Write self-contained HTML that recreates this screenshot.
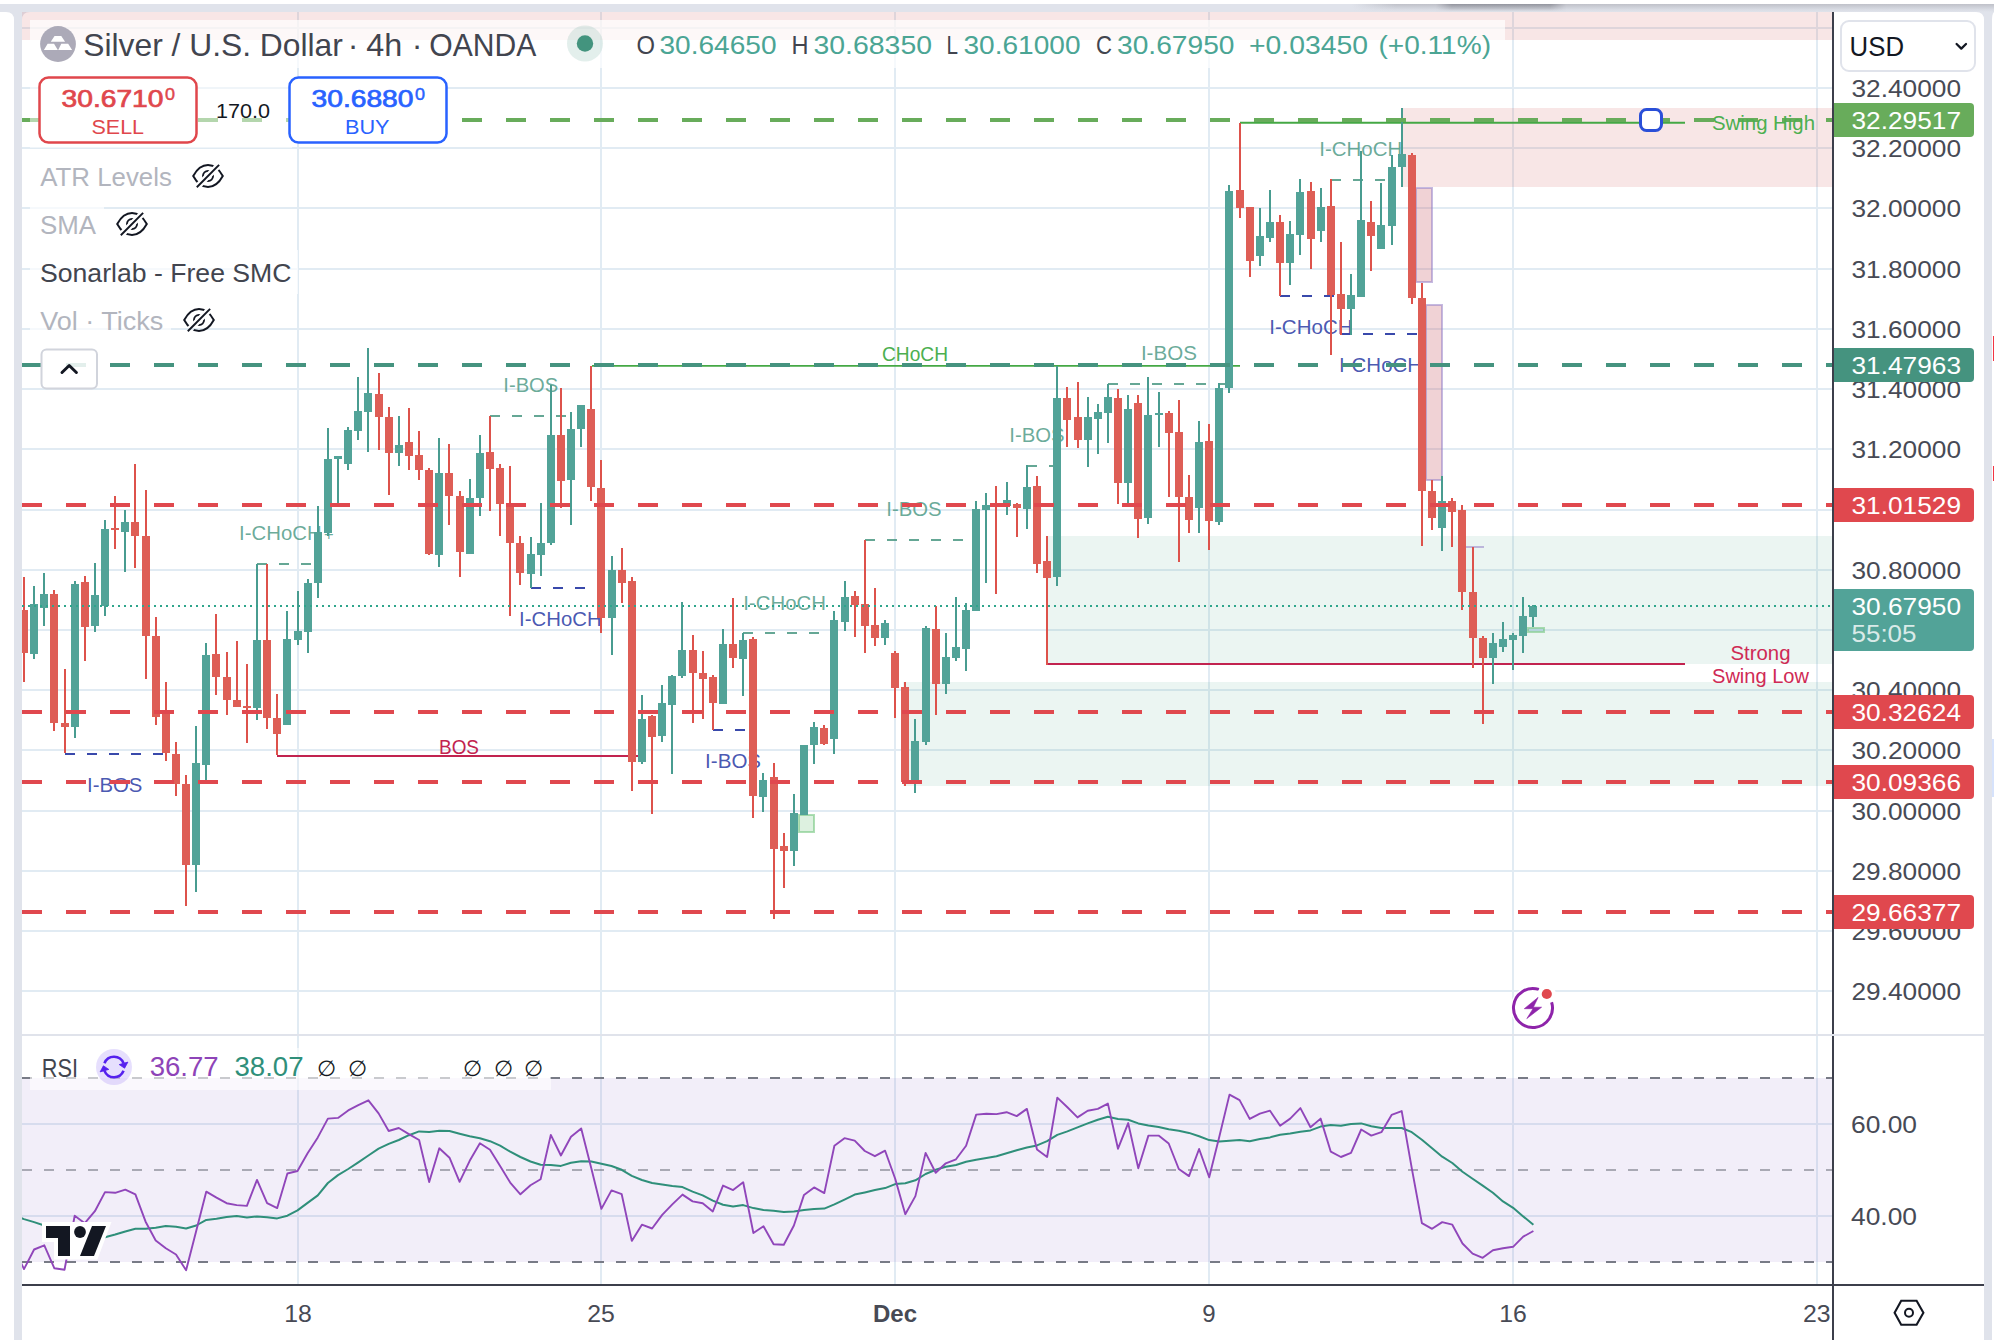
<!DOCTYPE html>
<html><head><meta charset="utf-8"><title>Silver / U.S. Dollar chart</title>
<style>
html,body{margin:0;padding:0;background:#fff;}
body{width:1994px;height:1340px;overflow:hidden;position:relative;font-family:'Liberation Sans', Arial, sans-serif;}
svg{position:absolute;left:0;top:0;display:block}
text{font-family:'Liberation Sans', Arial, sans-serif;}
</style></head><body>
<svg width="1994" height="1340" viewBox="0 0 1994 1340">
<defs>
<clipPath id="cpMain"><rect x="22" y="12" width="1810" height="1022"/></clipPath>
<clipPath id="cpRsi"><rect x="22" y="1036" width="1810" height="248"/></clipPath>
<linearGradient id="shDarkV" x1="0" y1="0" x2="0" y2="1"><stop offset="0" stop-color="#8e9099" stop-opacity="0.9"/><stop offset="0.6" stop-color="#a5a7b0" stop-opacity="0.45"/><stop offset="1" stop-color="#c8cad2" stop-opacity="0"/></linearGradient>
<linearGradient id="shDarkH" x1="0" y1="0" x2="1" y2="0"><stop offset="0" stop-color="#fff" stop-opacity="0"/><stop offset="0.12" stop-color="#fff" stop-opacity="1"/><stop offset="0.88" stop-color="#fff" stop-opacity="1"/><stop offset="1" stop-color="#fff" stop-opacity="0"/></linearGradient>
<mask id="shMask" maskUnits="userSpaceOnUse" x="1436" y="4" width="130" height="8"><rect x="1436" y="4" width="130" height="8" fill="url(#shDarkH)"/></mask>
<linearGradient id="shFade" x1="0" y1="0" x2="1" y2="0"><stop offset="0" stop-color="#e0e3eb" stop-opacity="1"/><stop offset="1" stop-color="#e0e3eb" stop-opacity="0"/></linearGradient>
<linearGradient id="shTop" x1="0" y1="0" x2="0" y2="1"><stop offset="0" stop-color="#bfc1c9"/><stop offset="0.7" stop-color="#d9dce4"/><stop offset="1" stop-color="#e0e3eb"/></linearGradient>
<mask id="eyeMask" maskUnits="userSpaceOnUse" x="-20" y="-16" width="40" height="32"><rect x="-20" y="-16" width="40" height="32" fill="#fff"/><line x1="-12.500" y1="12.500" x2="12.500" y2="-12.500" stroke="#000" stroke-width="6.400"/></mask>
<g id="eye"><g mask="url(#eyeMask)" fill="none" stroke="#131722" stroke-width="1.950"><path d="M-14.800 0 C-11 -7 -5.800 -11 0 -11 C5.800 -11 11 -7 14.800 0 C11 7 5.800 11 0 11 C-5.800 11 -11 7 -14.800 0 Z" stroke-linejoin="miter"/><circle cx="0" cy="0" r="5"/></g><line x1="-11.200" y1="11.200" x2="11.100" y2="-11.100" stroke="#131722" stroke-width="1.950"/></g>
</defs>

<rect x="0" y="0" width="1994" height="1340" fill="#e0e3eb" shape-rendering="crispEdges"/>
<rect x="0" y="0" width="1994" height="4" fill="#fff" shape-rendering="crispEdges"/>
<rect x="1352" y="4" width="642" height="8" fill="url(#shTop)"/>
<rect x="1352" y="4" width="44" height="8" fill="url(#shFade)"/>
<rect x="1436" y="4" width="130" height="8" fill="url(#shDarkV)" mask="url(#shMask)"/>
<path d="M1358 0 H1994 V4 H1366 Q1360 4 1358 0 Z" fill="#fff"/>
<path d="M0 12 H6 Q14 12 14 20 V1340 H0 Z" fill="#fff"/>
<path d="M22 1340 V20 Q22 12 30 12 H1976 Q1984 12 1984 20 V1340 Z" fill="#fff"/>
<path d="M1992 1340 V20 Q1992 14 1994 12 V1340 Z" fill="#fff"/>
<rect x="1993" y="336" width="1" height="25" fill="#f23645" shape-rendering="crispEdges"/>
<rect x="1993" y="466" width="1" height="15" fill="#f23645" shape-rendering="crispEdges"/>
<rect x="1992" y="739" width="2" height="58" fill="#d6e2fb" shape-rendering="crispEdges"/>
<g clip-path="url(#cpMain)" shape-rendering="crispEdges">
<rect x="297" y="12" width="2" height="1022" fill="#e1ebf3"/>
<rect x="600" y="12" width="2" height="1022" fill="#e1ebf3"/>
<rect x="894" y="12" width="2" height="1022" fill="#e1ebf3"/>
<rect x="1208" y="12" width="2" height="1022" fill="#e1ebf3"/>
<rect x="1512" y="12" width="2" height="1022" fill="#e1ebf3"/>
<rect x="1816" y="12" width="2" height="1022" fill="#e1ebf3"/>
<rect x="22" y="27" width="1810" height="2" fill="#e1ebf3"/>
<rect x="22" y="87" width="1810" height="2" fill="#e1ebf3"/>
<rect x="22" y="147" width="1810" height="2" fill="#e1ebf3"/>
<rect x="22" y="207" width="1810" height="2" fill="#e1ebf3"/>
<rect x="22" y="268" width="1810" height="2" fill="#e1ebf3"/>
<rect x="22" y="328" width="1810" height="2" fill="#e1ebf3"/>
<rect x="22" y="388" width="1810" height="2" fill="#e1ebf3"/>
<rect x="22" y="448" width="1810" height="2" fill="#e1ebf3"/>
<rect x="22" y="509" width="1810" height="2" fill="#e1ebf3"/>
<rect x="22" y="569" width="1810" height="2" fill="#e1ebf3"/>
<rect x="22" y="629" width="1810" height="2" fill="#e1ebf3"/>
<rect x="22" y="689" width="1810" height="2" fill="#e1ebf3"/>
<rect x="22" y="749" width="1810" height="2" fill="#e1ebf3"/>
<rect x="22" y="810" width="1810" height="2" fill="#e1ebf3"/>
<rect x="22" y="870" width="1810" height="2" fill="#e1ebf3"/>
<rect x="22" y="930" width="1810" height="2" fill="#e1ebf3"/>
<rect x="22" y="990" width="1810" height="2" fill="#e1ebf3"/>
<rect x="22" y="12" width="1810" height="28" fill="rgba(208,88,88,0.15)"/>
<rect x="1403" y="108" width="429" height="79" fill="rgba(208,88,88,0.15)"/>
<rect x="1048" y="536" width="784" height="128" fill="rgba(60,160,130,0.10)"/>
<rect x="903" y="682" width="929" height="104" fill="rgba(60,160,130,0.10)"/>
<rect x="1416" y="188" width="16" height="94" fill="rgba(200,90,100,0.27)" stroke="rgba(150,130,200,0.55)" stroke-width="2"/>
<rect x="1426" y="305" width="16" height="175" fill="rgba(200,90,100,0.27)" stroke="rgba(150,130,200,0.55)" stroke-width="2"/>
<rect x="1466" y="546" width="18" height="2" fill="rgba(150,130,200,0.55)"/>
<rect x="799" y="815" width="15" height="17" fill="rgba(120,200,130,0.25)" stroke="rgba(120,200,130,0.6)" stroke-width="2"/>
<rect x="1528" y="628" width="16" height="4" fill="rgba(120,180,200,0.3)" stroke="rgba(120,200,130,0.6)" stroke-width="2"/>
</g>
<g clip-path="url(#cpMain)">
<line x1="65" y1="754" x2="163" y2="754" stroke="#3949ab" stroke-width="2" stroke-dasharray="10 12" shape-rendering="crispEdges"/>
<text x="87.0" y="791.6" font-size="19.5" fill="rgba(57,73,171,0.92)" text-anchor="start" textLength="55.4" lengthAdjust="spacingAndGlyphs">I-BOS</text>
<line x1="257" y1="564" x2="311" y2="564" stroke="rgba(67,148,126,0.82)" stroke-width="2" stroke-dasharray="10 12" shape-rendering="crispEdges"/>
<text x="239.1" y="539.7" font-size="19.5" fill="rgba(67,148,126,0.78)" text-anchor="start" textLength="82.5" lengthAdjust="spacingAndGlyphs">I-CHoCH</text>
<text x="328.7" y="540" font-size="16.5" fill="rgba(67,148,126,0.78)" text-anchor="middle">+</text>
<line x1="277" y1="756" x2="638" y2="756" stroke="#c2234f" stroke-width="2" shape-rendering="crispEdges"/>
<text x="459" y="754" font-size="19.5" fill="#c2234f" text-anchor="middle" textLength="40" lengthAdjust="spacingAndGlyphs">BOS</text>
<line x1="490" y1="416" x2="571" y2="416" stroke="rgba(67,148,126,0.82)" stroke-width="2" stroke-dasharray="10 12" shape-rendering="crispEdges"/>
<text x="503.3" y="391.8" font-size="19.5" fill="rgba(67,148,126,0.78)" text-anchor="start" textLength="55.0" lengthAdjust="spacingAndGlyphs">I-BOS</text>
<line x1="531" y1="588" x2="590" y2="588" stroke="#3949ab" stroke-width="2" stroke-dasharray="10 12" shape-rendering="crispEdges"/>
<text x="519.1" y="625.9" font-size="19.5" fill="rgba(57,73,171,0.92)" text-anchor="start" textLength="82.5" lengthAdjust="spacingAndGlyphs">I-CHoCH</text>
<line x1="743" y1="633" x2="830" y2="633" stroke="rgba(67,148,126,0.82)" stroke-width="2" stroke-dasharray="10 12" shape-rendering="crispEdges"/>
<text x="743.2" y="609.7" font-size="19.5" fill="rgba(67,148,126,0.78)" text-anchor="start" textLength="82.8" lengthAdjust="spacingAndGlyphs">I-CHoCH</text>
<line x1="713" y1="730" x2="750" y2="730" stroke="#3949ab" stroke-width="2" stroke-dasharray="10 12" shape-rendering="crispEdges"/>
<text x="705.1" y="767.8" font-size="19.5" fill="rgba(57,73,171,0.92)" text-anchor="start" textLength="56.0" lengthAdjust="spacingAndGlyphs">I-BOS</text>
<line x1="865" y1="540" x2="972" y2="540" stroke="rgba(67,148,126,0.82)" stroke-width="2" stroke-dasharray="10 12" shape-rendering="crispEdges"/>
<text x="886.3" y="515.8" font-size="19.5" fill="rgba(67,148,126,0.78)" text-anchor="start" textLength="55.3" lengthAdjust="spacingAndGlyphs">I-BOS</text>
<line x1="1027" y1="466" x2="1055" y2="466" stroke="rgba(67,148,126,0.82)" stroke-width="2" stroke-dasharray="10 12" shape-rendering="crispEdges"/>
<text x="1009.3" y="441.8" font-size="19.5" fill="rgba(67,148,126,0.78)" text-anchor="start" textLength="55.3" lengthAdjust="spacingAndGlyphs">I-BOS</text>
<text x="915" y="361.3" font-size="19.5" fill="#4caf50" text-anchor="middle" textLength="66" lengthAdjust="spacingAndGlyphs">CHoCH</text>
<line x1="1108" y1="384" x2="1228" y2="384" stroke="rgba(67,148,126,0.82)" stroke-width="2" stroke-dasharray="10 12" shape-rendering="crispEdges"/>
<text x="1140.9" y="360" font-size="19.5" fill="rgba(67,148,126,0.78)" text-anchor="start" textLength="56.0" lengthAdjust="spacingAndGlyphs">I-BOS</text>
<line x1="1331" y1="180" x2="1392" y2="180" stroke="rgba(67,148,126,0.82)" stroke-width="2" stroke-dasharray="10 12" shape-rendering="crispEdges"/>
<text x="1319.3" y="156.3" font-size="19.5" fill="rgba(67,148,126,0.78)" text-anchor="start" textLength="83.0" lengthAdjust="spacingAndGlyphs">I-CHoCH</text>
<line x1="1280" y1="296" x2="1334" y2="296" stroke="#3949ab" stroke-width="2" stroke-dasharray="10 12" shape-rendering="crispEdges"/>
<text x="1269.3" y="333.8" font-size="19.5" fill="rgba(57,73,171,0.92)" text-anchor="start" textLength="83.3" lengthAdjust="spacingAndGlyphs">I-CHoCH</text>
<line x1="1341" y1="334" x2="1421" y2="334" stroke="#3949ab" stroke-width="2" stroke-dasharray="10 12" shape-rendering="crispEdges"/>
<text x="1339.1" y="371.8" font-size="19.5" fill="rgba(57,73,171,0.92)" text-anchor="start" textLength="83.0" lengthAdjust="spacingAndGlyphs">I-CHoCH</text>
<line x1="1047" y1="664" x2="1685" y2="664" stroke="#c2234f" stroke-width="2" shape-rendering="crispEdges"/>
<text x="1760.5" y="659.5" font-size="19.5" fill="#cf2a55" text-anchor="middle" textLength="60" lengthAdjust="spacingAndGlyphs">Strong</text>
<text x="1760.5" y="682.5" font-size="19.5" fill="#cf2a55" text-anchor="middle" textLength="97" lengthAdjust="spacingAndGlyphs">Swing Low</text>
</g>
<g clip-path="url(#cpMain)" shape-rendering="crispEdges">
<line x1="592" y1="365.900" x2="1240" y2="365.900" stroke="#45a845" stroke-width="1.600" shape-rendering="auto"/>
<line x1="1240" y1="122.800" x2="1685" y2="122.800" stroke="#45a845" stroke-width="1.900" shape-rendering="auto"/>
<rect x="23" y="577" width="2" height="105" fill="#dd524b"/>
<rect x="20" y="610" width="8" height="43" fill="#de5e56"/>
<rect x="33" y="586" width="2" height="73" fill="#489c90"/>
<rect x="30" y="604" width="8" height="50" fill="#52a398"/>
<rect x="43" y="573" width="2" height="53" fill="#489c90"/>
<rect x="40" y="594" width="8" height="14" fill="#52a398"/>
<rect x="53" y="590" width="2" height="141" fill="#dd524b"/>
<rect x="50" y="594" width="8" height="129" fill="#de5e56"/>
<rect x="64" y="669" width="2" height="84" fill="#dd524b"/>
<rect x="61" y="723" width="8" height="4" fill="#de5e56"/>
<rect x="74" y="581" width="2" height="157" fill="#489c90"/>
<rect x="71" y="584" width="8" height="143" fill="#52a398"/>
<rect x="84" y="576" width="2" height="85" fill="#dd524b"/>
<rect x="81" y="582" width="8" height="45" fill="#de5e56"/>
<rect x="94" y="563" width="2" height="69" fill="#489c90"/>
<rect x="91" y="595" width="8" height="31" fill="#52a398"/>
<rect x="104" y="520" width="2" height="96" fill="#489c90"/>
<rect x="101" y="529" width="8" height="77" fill="#52a398"/>
<rect x="114" y="496" width="2" height="53" fill="#dd524b"/>
<rect x="111" y="528" width="8" height="2" fill="#de5e56"/>
<rect x="124" y="510" width="2" height="62" fill="#489c90"/>
<rect x="121" y="522" width="8" height="10" fill="#52a398"/>
<rect x="134" y="464" width="2" height="104" fill="#dd524b"/>
<rect x="131" y="522" width="8" height="14" fill="#de5e56"/>
<rect x="145" y="490" width="2" height="189" fill="#dd524b"/>
<rect x="142" y="536" width="8" height="100" fill="#de5e56"/>
<rect x="155" y="617" width="2" height="108" fill="#dd524b"/>
<rect x="152" y="636" width="8" height="81" fill="#de5e56"/>
<rect x="165" y="682" width="2" height="79" fill="#dd524b"/>
<rect x="162" y="714" width="8" height="39" fill="#de5e56"/>
<rect x="175" y="742" width="2" height="54" fill="#dd524b"/>
<rect x="172" y="754" width="8" height="30" fill="#de5e56"/>
<rect x="185" y="775" width="2" height="131" fill="#dd524b"/>
<rect x="182" y="784" width="8" height="81" fill="#de5e56"/>
<rect x="195" y="726" width="2" height="166" fill="#489c90"/>
<rect x="192" y="763" width="8" height="102" fill="#52a398"/>
<rect x="205" y="643" width="2" height="137" fill="#489c90"/>
<rect x="202" y="655" width="8" height="110" fill="#52a398"/>
<rect x="215" y="614" width="2" height="81" fill="#dd524b"/>
<rect x="212" y="654" width="8" height="23" fill="#de5e56"/>
<rect x="226" y="652" width="2" height="63" fill="#dd524b"/>
<rect x="223" y="677" width="8" height="23" fill="#de5e56"/>
<rect x="236" y="641" width="2" height="66" fill="#dd524b"/>
<rect x="233" y="700" width="8" height="7" fill="#de5e56"/>
<rect x="246" y="664" width="2" height="79" fill="#dd524b"/>
<rect x="243" y="706" width="8" height="2" fill="#de5e56"/>
<rect x="256" y="564" width="2" height="156" fill="#489c90"/>
<rect x="253" y="640" width="8" height="68" fill="#52a398"/>
<rect x="266" y="564" width="2" height="165" fill="#dd524b"/>
<rect x="263" y="640" width="8" height="78" fill="#de5e56"/>
<rect x="276" y="694" width="2" height="61" fill="#dd524b"/>
<rect x="273" y="718" width="8" height="16" fill="#de5e56"/>
<rect x="286" y="611" width="2" height="114" fill="#489c90"/>
<rect x="283" y="639" width="8" height="86" fill="#52a398"/>
<rect x="297" y="591" width="2" height="54" fill="#489c90"/>
<rect x="294" y="631" width="8" height="9" fill="#52a398"/>
<rect x="307" y="579" width="2" height="74" fill="#489c90"/>
<rect x="304" y="583" width="8" height="49" fill="#52a398"/>
<rect x="317" y="506" width="2" height="92" fill="#489c90"/>
<rect x="314" y="532" width="8" height="51" fill="#52a398"/>
<rect x="327" y="428" width="2" height="108" fill="#489c90"/>
<rect x="324" y="459" width="8" height="74" fill="#52a398"/>
<rect x="337" y="456" width="2" height="47" fill="#489c90"/>
<rect x="334" y="456" width="8" height="3" fill="#52a398"/>
<rect x="347" y="427" width="2" height="43" fill="#489c90"/>
<rect x="344" y="430" width="8" height="34" fill="#52a398"/>
<rect x="357" y="377" width="2" height="63" fill="#489c90"/>
<rect x="354" y="411" width="8" height="20" fill="#52a398"/>
<rect x="367" y="348" width="2" height="104" fill="#489c90"/>
<rect x="364" y="393" width="8" height="19" fill="#52a398"/>
<rect x="378" y="373" width="2" height="77" fill="#dd524b"/>
<rect x="375" y="394" width="8" height="23" fill="#de5e56"/>
<rect x="388" y="407" width="2" height="88" fill="#dd524b"/>
<rect x="385" y="417" width="8" height="36" fill="#de5e56"/>
<rect x="398" y="416" width="2" height="50" fill="#489c90"/>
<rect x="395" y="445" width="8" height="8" fill="#52a398"/>
<rect x="408" y="408" width="2" height="62" fill="#dd524b"/>
<rect x="405" y="442" width="8" height="14" fill="#de5e56"/>
<rect x="418" y="431" width="2" height="49" fill="#dd524b"/>
<rect x="415" y="455" width="8" height="15" fill="#de5e56"/>
<rect x="428" y="468" width="2" height="87" fill="#dd524b"/>
<rect x="425" y="470" width="8" height="84" fill="#de5e56"/>
<rect x="438" y="438" width="2" height="129" fill="#489c90"/>
<rect x="435" y="473" width="8" height="82" fill="#52a398"/>
<rect x="448" y="444" width="2" height="81" fill="#dd524b"/>
<rect x="445" y="473" width="8" height="23" fill="#de5e56"/>
<rect x="459" y="491" width="2" height="86" fill="#dd524b"/>
<rect x="456" y="496" width="8" height="56" fill="#de5e56"/>
<rect x="469" y="479" width="2" height="75" fill="#489c90"/>
<rect x="466" y="498" width="8" height="56" fill="#52a398"/>
<rect x="479" y="435" width="2" height="81" fill="#489c90"/>
<rect x="476" y="453" width="8" height="45" fill="#52a398"/>
<rect x="489" y="416" width="2" height="95" fill="#dd524b"/>
<rect x="486" y="452" width="8" height="17" fill="#de5e56"/>
<rect x="499" y="464" width="2" height="72" fill="#dd524b"/>
<rect x="496" y="468" width="8" height="36" fill="#de5e56"/>
<rect x="509" y="466" width="2" height="150" fill="#dd524b"/>
<rect x="506" y="504" width="8" height="39" fill="#de5e56"/>
<rect x="519" y="536" width="2" height="49" fill="#dd524b"/>
<rect x="516" y="543" width="8" height="30" fill="#de5e56"/>
<rect x="530" y="537" width="2" height="51" fill="#489c90"/>
<rect x="527" y="554" width="8" height="20" fill="#52a398"/>
<rect x="540" y="503" width="2" height="73" fill="#489c90"/>
<rect x="537" y="543" width="8" height="12" fill="#52a398"/>
<rect x="550" y="385" width="2" height="160" fill="#489c90"/>
<rect x="547" y="435" width="8" height="108" fill="#52a398"/>
<rect x="560" y="388" width="2" height="120" fill="#dd524b"/>
<rect x="557" y="435" width="8" height="46" fill="#de5e56"/>
<rect x="570" y="412" width="2" height="113" fill="#489c90"/>
<rect x="567" y="429" width="8" height="51" fill="#52a398"/>
<rect x="580" y="405" width="2" height="42" fill="#489c90"/>
<rect x="577" y="405" width="8" height="24" fill="#52a398"/>
<rect x="590" y="366" width="2" height="135" fill="#dd524b"/>
<rect x="587" y="409" width="8" height="78" fill="#de5e56"/>
<rect x="600" y="460" width="2" height="173" fill="#dd524b"/>
<rect x="597" y="488" width="8" height="130" fill="#de5e56"/>
<rect x="611" y="556" width="2" height="99" fill="#489c90"/>
<rect x="608" y="570" width="8" height="48" fill="#52a398"/>
<rect x="621" y="548" width="2" height="55" fill="#dd524b"/>
<rect x="618" y="570" width="8" height="13" fill="#de5e56"/>
<rect x="631" y="577" width="2" height="214" fill="#dd524b"/>
<rect x="628" y="581" width="8" height="181" fill="#de5e56"/>
<rect x="641" y="695" width="2" height="69" fill="#489c90"/>
<rect x="638" y="719" width="8" height="43" fill="#52a398"/>
<rect x="651" y="715" width="2" height="99" fill="#dd524b"/>
<rect x="648" y="716" width="8" height="21" fill="#de5e56"/>
<rect x="661" y="685" width="2" height="57" fill="#489c90"/>
<rect x="658" y="703" width="8" height="33" fill="#52a398"/>
<rect x="671" y="675" width="2" height="99" fill="#489c90"/>
<rect x="668" y="676" width="8" height="29" fill="#52a398"/>
<rect x="681" y="602" width="2" height="76" fill="#489c90"/>
<rect x="678" y="650" width="8" height="26" fill="#52a398"/>
<rect x="692" y="635" width="2" height="88" fill="#dd524b"/>
<rect x="689" y="650" width="8" height="23" fill="#de5e56"/>
<rect x="702" y="651" width="2" height="68" fill="#dd524b"/>
<rect x="699" y="673" width="8" height="6" fill="#de5e56"/>
<rect x="712" y="675" width="2" height="55" fill="#dd524b"/>
<rect x="709" y="677" width="8" height="26" fill="#de5e56"/>
<rect x="722" y="629" width="2" height="75" fill="#489c90"/>
<rect x="719" y="644" width="8" height="60" fill="#52a398"/>
<rect x="732" y="598" width="2" height="70" fill="#dd524b"/>
<rect x="729" y="644" width="8" height="14" fill="#de5e56"/>
<rect x="742" y="633" width="2" height="63" fill="#489c90"/>
<rect x="739" y="640" width="8" height="19" fill="#52a398"/>
<rect x="752" y="637" width="2" height="181" fill="#dd524b"/>
<rect x="749" y="639" width="8" height="157" fill="#de5e56"/>
<rect x="762" y="773" width="2" height="39" fill="#489c90"/>
<rect x="759" y="780" width="8" height="17" fill="#52a398"/>
<rect x="773" y="763" width="2" height="156" fill="#dd524b"/>
<rect x="770" y="777" width="8" height="72" fill="#de5e56"/>
<rect x="783" y="833" width="2" height="55" fill="#dd524b"/>
<rect x="780" y="846" width="8" height="5" fill="#de5e56"/>
<rect x="793" y="794" width="2" height="72" fill="#489c90"/>
<rect x="790" y="813" width="8" height="38" fill="#52a398"/>
<rect x="803" y="745" width="2" height="70" fill="#489c90"/>
<rect x="800" y="745" width="8" height="70" fill="#52a398"/>
<rect x="813" y="722" width="2" height="42" fill="#489c90"/>
<rect x="810" y="727" width="8" height="18" fill="#52a398"/>
<rect x="823" y="725" width="2" height="20" fill="#dd524b"/>
<rect x="820" y="728" width="8" height="16" fill="#de5e56"/>
<rect x="833" y="611" width="2" height="143" fill="#489c90"/>
<rect x="830" y="620" width="8" height="119" fill="#52a398"/>
<rect x="844" y="581" width="2" height="50" fill="#489c90"/>
<rect x="841" y="597" width="8" height="25" fill="#52a398"/>
<rect x="854" y="591" width="2" height="46" fill="#dd524b"/>
<rect x="851" y="596" width="8" height="9" fill="#de5e56"/>
<rect x="864" y="540" width="2" height="113" fill="#dd524b"/>
<rect x="861" y="604" width="8" height="22" fill="#de5e56"/>
<rect x="874" y="588" width="2" height="58" fill="#dd524b"/>
<rect x="871" y="625" width="8" height="13" fill="#de5e56"/>
<rect x="884" y="620" width="2" height="25" fill="#489c90"/>
<rect x="881" y="623" width="8" height="15" fill="#52a398"/>
<rect x="894" y="651" width="2" height="67" fill="#dd524b"/>
<rect x="891" y="653" width="8" height="35" fill="#de5e56"/>
<rect x="904" y="682" width="2" height="104" fill="#dd524b"/>
<rect x="901" y="687" width="8" height="95" fill="#de5e56"/>
<rect x="914" y="719" width="2" height="74" fill="#489c90"/>
<rect x="911" y="741" width="8" height="41" fill="#52a398"/>
<rect x="925" y="626" width="2" height="119" fill="#489c90"/>
<rect x="922" y="628" width="8" height="114" fill="#52a398"/>
<rect x="935" y="606" width="2" height="109" fill="#dd524b"/>
<rect x="932" y="629" width="8" height="55" fill="#de5e56"/>
<rect x="945" y="633" width="2" height="61" fill="#489c90"/>
<rect x="942" y="657" width="8" height="27" fill="#52a398"/>
<rect x="955" y="597" width="2" height="64" fill="#489c90"/>
<rect x="952" y="647" width="8" height="11" fill="#52a398"/>
<rect x="965" y="603" width="2" height="68" fill="#489c90"/>
<rect x="962" y="610" width="8" height="39" fill="#52a398"/>
<rect x="975" y="501" width="2" height="110" fill="#489c90"/>
<rect x="972" y="509" width="8" height="102" fill="#52a398"/>
<rect x="985" y="493" width="2" height="90" fill="#489c90"/>
<rect x="982" y="505" width="8" height="5" fill="#52a398"/>
<rect x="995" y="486" width="2" height="108" fill="#dd524b"/>
<rect x="992" y="504" width="8" height="2" fill="#de5e56"/>
<rect x="1006" y="482" width="2" height="33" fill="#489c90"/>
<rect x="1003" y="500" width="8" height="6" fill="#52a398"/>
<rect x="1016" y="503" width="2" height="34" fill="#dd524b"/>
<rect x="1013" y="504" width="8" height="4" fill="#de5e56"/>
<rect x="1026" y="465" width="2" height="64" fill="#489c90"/>
<rect x="1023" y="487" width="8" height="22" fill="#52a398"/>
<rect x="1036" y="476" width="2" height="97" fill="#dd524b"/>
<rect x="1033" y="486" width="8" height="78" fill="#de5e56"/>
<rect x="1046" y="536" width="2" height="129" fill="#dd524b"/>
<rect x="1043" y="561" width="8" height="17" fill="#de5e56"/>
<rect x="1056" y="366" width="2" height="220" fill="#489c90"/>
<rect x="1053" y="398" width="8" height="179" fill="#52a398"/>
<rect x="1066" y="387" width="2" height="60" fill="#dd524b"/>
<rect x="1063" y="398" width="8" height="22" fill="#de5e56"/>
<rect x="1077" y="382" width="2" height="66" fill="#dd524b"/>
<rect x="1074" y="417" width="8" height="23" fill="#de5e56"/>
<rect x="1087" y="397" width="2" height="70" fill="#489c90"/>
<rect x="1084" y="417" width="8" height="23" fill="#52a398"/>
<rect x="1097" y="404" width="2" height="50" fill="#489c90"/>
<rect x="1094" y="412" width="8" height="7" fill="#52a398"/>
<rect x="1107" y="384" width="2" height="59" fill="#489c90"/>
<rect x="1104" y="397" width="8" height="16" fill="#52a398"/>
<rect x="1117" y="389" width="2" height="115" fill="#dd524b"/>
<rect x="1114" y="398" width="8" height="85" fill="#de5e56"/>
<rect x="1127" y="395" width="2" height="111" fill="#489c90"/>
<rect x="1124" y="409" width="8" height="74" fill="#52a398"/>
<rect x="1137" y="395" width="2" height="143" fill="#dd524b"/>
<rect x="1134" y="403" width="8" height="116" fill="#de5e56"/>
<rect x="1147" y="377" width="2" height="147" fill="#489c90"/>
<rect x="1144" y="415" width="8" height="103" fill="#52a398"/>
<rect x="1158" y="392" width="2" height="55" fill="#489c90"/>
<rect x="1155" y="413" width="8" height="2" fill="#52a398"/>
<rect x="1168" y="411" width="2" height="86" fill="#dd524b"/>
<rect x="1165" y="413" width="8" height="20" fill="#de5e56"/>
<rect x="1178" y="400" width="2" height="162" fill="#dd524b"/>
<rect x="1175" y="432" width="8" height="65" fill="#de5e56"/>
<rect x="1188" y="475" width="2" height="58" fill="#dd524b"/>
<rect x="1185" y="497" width="8" height="23" fill="#de5e56"/>
<rect x="1198" y="421" width="2" height="112" fill="#489c90"/>
<rect x="1195" y="442" width="8" height="66" fill="#52a398"/>
<rect x="1208" y="424" width="2" height="126" fill="#dd524b"/>
<rect x="1205" y="441" width="8" height="80" fill="#de5e56"/>
<rect x="1218" y="383" width="2" height="142" fill="#489c90"/>
<rect x="1215" y="388" width="8" height="134" fill="#52a398"/>
<rect x="1228" y="185" width="2" height="208" fill="#489c90"/>
<rect x="1225" y="191" width="8" height="197" fill="#52a398"/>
<rect x="1239" y="123" width="2" height="95" fill="#dd524b"/>
<rect x="1236" y="190" width="8" height="18" fill="#de5e56"/>
<rect x="1249" y="207" width="2" height="70" fill="#dd524b"/>
<rect x="1246" y="207" width="8" height="54" fill="#de5e56"/>
<rect x="1259" y="208" width="2" height="58" fill="#489c90"/>
<rect x="1256" y="236" width="8" height="20" fill="#52a398"/>
<rect x="1269" y="190" width="2" height="52" fill="#489c90"/>
<rect x="1266" y="222" width="8" height="16" fill="#52a398"/>
<rect x="1279" y="215" width="2" height="81" fill="#dd524b"/>
<rect x="1276" y="222" width="8" height="41" fill="#de5e56"/>
<rect x="1289" y="221" width="2" height="64" fill="#489c90"/>
<rect x="1286" y="234" width="8" height="29" fill="#52a398"/>
<rect x="1299" y="179" width="2" height="76" fill="#489c90"/>
<rect x="1296" y="192" width="8" height="43" fill="#52a398"/>
<rect x="1310" y="182" width="2" height="87" fill="#dd524b"/>
<rect x="1307" y="191" width="8" height="48" fill="#de5e56"/>
<rect x="1320" y="188" width="2" height="54" fill="#489c90"/>
<rect x="1317" y="207" width="8" height="24" fill="#52a398"/>
<rect x="1330" y="179" width="2" height="176" fill="#dd524b"/>
<rect x="1327" y="206" width="8" height="89" fill="#de5e56"/>
<rect x="1340" y="242" width="2" height="93" fill="#dd524b"/>
<rect x="1337" y="294" width="8" height="15" fill="#de5e56"/>
<rect x="1350" y="274" width="2" height="61" fill="#489c90"/>
<rect x="1347" y="295" width="8" height="14" fill="#52a398"/>
<rect x="1360" y="151" width="2" height="146" fill="#489c90"/>
<rect x="1357" y="220" width="8" height="77" fill="#52a398"/>
<rect x="1370" y="201" width="2" height="70" fill="#dd524b"/>
<rect x="1367" y="222" width="8" height="14" fill="#de5e56"/>
<rect x="1380" y="183" width="2" height="66" fill="#489c90"/>
<rect x="1377" y="225" width="8" height="24" fill="#52a398"/>
<rect x="1391" y="155" width="2" height="90" fill="#489c90"/>
<rect x="1388" y="167" width="8" height="59" fill="#52a398"/>
<rect x="1401" y="108" width="2" height="79" fill="#489c90"/>
<rect x="1398" y="154" width="8" height="13" fill="#52a398"/>
<rect x="1411" y="153" width="2" height="151" fill="#dd524b"/>
<rect x="1408" y="155" width="8" height="143" fill="#de5e56"/>
<rect x="1421" y="283" width="2" height="263" fill="#dd524b"/>
<rect x="1418" y="298" width="8" height="193" fill="#de5e56"/>
<rect x="1431" y="480" width="2" height="50" fill="#dd524b"/>
<rect x="1428" y="491" width="8" height="27" fill="#de5e56"/>
<rect x="1441" y="476" width="2" height="75" fill="#489c90"/>
<rect x="1438" y="501" width="8" height="27" fill="#52a398"/>
<rect x="1451" y="498" width="2" height="49" fill="#dd524b"/>
<rect x="1448" y="501" width="8" height="11" fill="#de5e56"/>
<rect x="1461" y="505" width="2" height="105" fill="#dd524b"/>
<rect x="1458" y="510" width="8" height="82" fill="#de5e56"/>
<rect x="1472" y="547" width="2" height="121" fill="#dd524b"/>
<rect x="1469" y="592" width="8" height="46" fill="#de5e56"/>
<rect x="1482" y="636" width="2" height="88" fill="#dd524b"/>
<rect x="1479" y="638" width="8" height="20" fill="#de5e56"/>
<rect x="1492" y="633" width="2" height="51" fill="#489c90"/>
<rect x="1489" y="643" width="8" height="15" fill="#52a398"/>
<rect x="1502" y="622" width="2" height="30" fill="#489c90"/>
<rect x="1499" y="639" width="8" height="8" fill="#52a398"/>
<rect x="1512" y="633" width="2" height="37" fill="#489c90"/>
<rect x="1509" y="635" width="8" height="5" fill="#52a398"/>
<rect x="1522" y="597" width="2" height="56" fill="#489c90"/>
<rect x="1519" y="616" width="8" height="20" fill="#52a398"/>
<rect x="1532" y="605" width="2" height="22" fill="#489c90"/>
<rect x="1529" y="606" width="8" height="11" fill="#52a398"/>
<line x1="22" y1="120" x2="1832" y2="120" stroke="#68ac5b" stroke-width="4" stroke-dasharray="20 24"/>
<line x1="22" y1="365" x2="1832" y2="365" stroke="#45937f" stroke-width="4" stroke-dasharray="20 24"/>
<line x1="22" y1="505" x2="1832" y2="505" stroke="#e0484e" stroke-width="4" stroke-dasharray="20 24"/>
<line x1="22" y1="712" x2="1832" y2="712" stroke="#e0484e" stroke-width="4" stroke-dasharray="20 24"/>
<line x1="22" y1="782" x2="1832" y2="782" stroke="#e0484e" stroke-width="4" stroke-dasharray="20 24"/>
<line x1="22" y1="912" x2="1832" y2="912" stroke="#e0484e" stroke-width="4" stroke-dasharray="20 24"/>
<line x1="22" y1="606" x2="1832" y2="606" stroke="#2fa58c" stroke-width="2" stroke-dasharray="2 4"/>
</g>
<text x="1712" y="130" font-size="19.5" fill="#4caf50" text-anchor="start" textLength="103" lengthAdjust="spacingAndGlyphs">Swing High</text>
<rect x="1640.5" y="109.500" width="21" height="21" rx="6" fill="#fff" stroke="#2a4fd8" stroke-width="3"/>
<g><circle cx="1533" cy="1008" r="22.500" fill="#fff"/><path d="M1538.900 989.400 A19.500 19.500 0 1 0 1551.600 1002.200" fill="none" stroke="#8e24aa" stroke-width="3"/><path d="M1538.200 997.300 L1524.300 1008.700 H1533 L1526.800 1018.600 L1541.600 1007.200 H1533.400 Z" fill="#8e24aa" stroke="#8e24aa" stroke-width="0.600" stroke-linejoin="round"/><circle cx="1546.800" cy="994" r="9" fill="#fff"/><circle cx="1546.800" cy="994" r="5.100" fill="#e0484e"/></g>
<rect x="30" y="20" width="1475" height="48" fill="rgba(255,255,255,0.7)"/>
<rect x="30" y="72" width="262" height="76" fill="rgba(255,255,255,0.5)"/>
<rect x="30" y="154" width="149" height="44" fill="rgba(255,255,255,0.7)"/>
<rect x="30" y="202" width="74" height="44" fill="rgba(255,255,255,0.7)"/>
<rect x="30" y="250" width="268" height="44" fill="rgba(255,255,255,0.7)"/>
<rect x="30" y="298" width="141" height="44" fill="rgba(255,255,255,0.7)"/>
<circle cx="58" cy="44" r="17.900" fill="#acaab8"/>
<path d="M54.550 35.960 H61.280 L65.060 41.870 H50.770 Z M47.650 43.850 H54.050 L57.800 50.090 H43.870 Z M61.280 43.850 H68.180 L72.120 50.090 H58.200 Z" fill="#fff"/>
<text x="83.3" y="56.2" font-size="32" fill="#42454f" text-anchor="start" textLength="259.5" lengthAdjust="spacingAndGlyphs">Silver / U.S. Dollar</text>
<text x="353.2" y="56.2" font-size="32" fill="#42454f" text-anchor="middle">·</text>
<text x="366.2" y="56.2" font-size="32" fill="#42454f" text-anchor="start" textLength="36" lengthAdjust="spacingAndGlyphs">4h</text>
<text x="417.2" y="56.2" font-size="32" fill="#42454f" text-anchor="middle">·</text>
<text x="429.3" y="56.2" font-size="32" fill="#42454f" text-anchor="start" textLength="107" lengthAdjust="spacingAndGlyphs">OANDA</text>
<circle cx="585" cy="43.500" r="18" fill="rgba(67,148,126,0.15)"/><circle cx="585" cy="43.500" r="8.200" fill="#43947e"/>
<text x="636.5" y="54" font-size="26" fill="#42454f" text-anchor="start" textLength="18.5" lengthAdjust="spacingAndGlyphs">O</text>
<text x="659.5" y="54" font-size="26" fill="#4ba594" text-anchor="start" textLength="117" lengthAdjust="spacingAndGlyphs">30.64650</text>
<text x="791.5" y="54" font-size="26" fill="#42454f" text-anchor="start" textLength="17" lengthAdjust="spacingAndGlyphs">H</text>
<text x="813.5" y="54" font-size="26" fill="#4ba594" text-anchor="start" textLength="118.5" lengthAdjust="spacingAndGlyphs">30.68350</text>
<text x="946.5" y="54" font-size="26" fill="#42454f" text-anchor="start" textLength="11.5" lengthAdjust="spacingAndGlyphs">L</text>
<text x="963.5" y="54" font-size="26" fill="#4ba594" text-anchor="start" textLength="117" lengthAdjust="spacingAndGlyphs">30.61000</text>
<text x="1096" y="54" font-size="26" fill="#42454f" text-anchor="start" textLength="16" lengthAdjust="spacingAndGlyphs">C</text>
<text x="1117" y="54" font-size="26" fill="#4ba594" text-anchor="start" textLength="117.5" lengthAdjust="spacingAndGlyphs">30.67950</text>
<text x="1249" y="54" font-size="26" fill="#4ba594" text-anchor="start" textLength="119" lengthAdjust="spacingAndGlyphs">+0.03450</text>
<text x="1378.5" y="54" font-size="26" fill="#4ba594" text-anchor="start" textLength="112.5" lengthAdjust="spacingAndGlyphs">(+0.11%)</text>
<rect x="39.500" y="77.500" width="157" height="65" rx="9" fill="#fff" stroke="#e0474c" stroke-width="2.500"/>
<text x="61.500" y="107" font-size="23.500" fill="#e0474c" stroke="#e0474c" stroke-width="0.700" textLength="102" lengthAdjust="spacingAndGlyphs">30.6710</text>
<text x="165" y="99.500" font-size="16.500" fill="#e0474c" stroke="#e0474c" stroke-width="0.450" textLength="10" lengthAdjust="spacingAndGlyphs">0</text>
<text x="91.5" y="133.5" font-size="21" fill="#e0474c" text-anchor="start" textLength="52.5" lengthAdjust="spacingAndGlyphs">SELL</text>
<text x="216" y="117.5" font-size="20" fill="#131722" text-anchor="start" textLength="54" lengthAdjust="spacingAndGlyphs">170.0</text>
<rect x="289.500" y="77.500" width="157" height="65" rx="9" fill="#fff" stroke="#2962ff" stroke-width="2.500"/>
<text x="311.500" y="107" font-size="23.500" fill="#2962ff" stroke="#2962ff" stroke-width="0.700" textLength="102" lengthAdjust="spacingAndGlyphs">30.6880</text>
<text x="415" y="99.500" font-size="16.500" fill="#2962ff" stroke="#2962ff" stroke-width="0.450" textLength="10" lengthAdjust="spacingAndGlyphs">0</text>
<text x="345" y="133.5" font-size="21" fill="#2962ff" text-anchor="start" textLength="44.5" lengthAdjust="spacingAndGlyphs">BUY</text>
<text x="40.3" y="185.5" font-size="25.5" fill="#b2b5be" text-anchor="start" textLength="131.5" lengthAdjust="spacingAndGlyphs">ATR Levels</text>
<use href="#eye" transform="translate(208 176)"/>
<text x="40" y="234" font-size="25.5" fill="#b2b5be" text-anchor="start" textLength="56" lengthAdjust="spacingAndGlyphs">SMA</text>
<use href="#eye" transform="translate(132 224)"/>
<text x="40" y="281.5" font-size="25.5" fill="#42454f" text-anchor="start" textLength="251.5" lengthAdjust="spacingAndGlyphs">Sonarlab - Free SMC</text>
<text x="40.3" y="329.5" font-size="25.5" fill="#b2b5be" text-anchor="start" textLength="123" lengthAdjust="spacingAndGlyphs">Vol · Ticks</text>
<use href="#eye" transform="translate(199 320)"/>
<rect x="41.500" y="349.500" width="55.500" height="39" rx="5" fill="rgba(255,255,255,0.85)" stroke="#d1d4dc" stroke-width="2"/>
<path d="M62 372.500 L69.200 365.500 L76.400 372.500" fill="none" stroke="#131722" stroke-width="3" stroke-linecap="round" stroke-linejoin="round"/>
<g clip-path="url(#cpRsi)">
<g shape-rendering="crispEdges">
<rect x="297" y="1036" width="2" height="248" fill="#e1ebf3"/>
<rect x="600" y="1036" width="2" height="248" fill="#e1ebf3"/>
<rect x="894" y="1036" width="2" height="248" fill="#e1ebf3"/>
<rect x="1208" y="1036" width="2" height="248" fill="#e1ebf3"/>
<rect x="1512" y="1036" width="2" height="248" fill="#e1ebf3"/>
<rect x="1816" y="1036" width="2" height="248" fill="#e1ebf3"/>
<rect x="22" y="1123" width="1810" height="2" fill="#e1ebf3"/>
<rect x="22" y="1215" width="1810" height="2" fill="#e1ebf3"/>
<rect x="22" y="1078" width="1810" height="184" fill="rgba(126,87,194,0.10)"/>
<line x1="22" y1="1078" x2="1832" y2="1078" stroke="#787b86" stroke-width="2" stroke-dasharray="10 12"/>
<line x1="22" y1="1170" x2="1832" y2="1170" stroke="rgba(120,123,134,0.6)" stroke-width="2" stroke-dasharray="10 12"/>
<line x1="22" y1="1262" x2="1832" y2="1262" stroke="#787b86" stroke-width="2" stroke-dasharray="10 12"/>
</g>
<polyline points="13.9,1215.5 24.0,1219.1 34.1,1222.1 44.3,1225.5 54.4,1230.0 64.5,1234.2 74.7,1237.5 84.8,1239.0 94.9,1238.7 105.0,1237.2 115.2,1234.5 125.3,1231.5 135.4,1228.8 145.6,1228.8 155.7,1227.7 165.8,1225.9 176.0,1226.7 186.1,1228.5 196.2,1225.5 206.3,1219.9 216.5,1218.7 226.6,1216.9 236.7,1216.1 246.9,1217.6 257.0,1216.4 267.1,1217.2 277.2,1218.4 287.4,1215.7 297.5,1210.4 307.6,1202.9 317.8,1195.4 327.9,1183.0 338.0,1175.1 348.2,1169.0 358.3,1162.3 368.4,1155.5 378.6,1148.7 388.7,1143.9 398.8,1140.0 408.9,1135.2 419.1,1131.4 429.2,1131.9 439.3,1130.7 449.5,1131.0 459.6,1133.7 469.7,1136.2 479.9,1138.2 490.0,1141.2 500.1,1145.7 510.2,1151.7 520.4,1157.0 530.5,1161.5 540.6,1164.8 550.8,1165.0 560.9,1165.9 571.0,1162.7 581.2,1161.2 591.3,1161.5 601.4,1163.8 611.5,1166.0 621.7,1169.8 631.8,1175.8 641.9,1180.0 652.1,1183.0 662.2,1184.5 672.3,1186.0 682.5,1187.1 692.6,1191.6 702.7,1195.4 712.8,1200.6 723.0,1204.7 733.1,1206.6 743.2,1205.1 753.4,1208.1 763.5,1210.1 773.6,1210.7 783.8,1211.9 793.9,1211.5 804.0,1210.0 814.1,1208.9 824.3,1208.6 834.4,1204.4 844.5,1199.6 854.7,1194.6 864.8,1192.4 874.9,1190.1 885.1,1188.1 895.2,1184.1 905.3,1183.3 915.4,1180.3 925.6,1174.0 935.7,1169.8 945.8,1166.8 956.0,1165.0 966.1,1161.8 976.2,1159.7 986.4,1158.0 996.5,1156.2 1006.6,1153.2 1016.7,1150.2 1026.9,1147.5 1037.0,1145.4 1047.1,1141.2 1057.3,1134.9 1067.4,1131.4 1077.5,1127.4 1087.7,1123.4 1097.8,1119.7 1107.9,1116.7 1118.0,1118.9 1128.2,1119.8 1138.3,1123.4 1148.4,1125.4 1158.6,1126.9 1168.7,1129.2 1178.8,1130.7 1189.0,1132.9 1199.1,1136.2 1209.2,1140.1 1219.3,1141.6 1229.5,1140.7 1239.6,1140.0 1249.7,1141.2 1259.9,1138.9 1270.0,1137.4 1280.1,1134.7 1290.2,1133.4 1300.4,1131.7 1310.5,1130.4 1320.6,1126.6 1330.8,1124.9 1340.9,1125.7 1351.0,1123.9 1361.2,1123.4 1371.3,1126.2 1381.4,1128.1 1391.6,1128.0 1401.7,1128.0 1411.8,1132.2 1421.9,1139.7 1432.1,1148.3 1442.2,1156.7 1452.3,1163.0 1462.5,1171.7 1472.6,1178.8 1482.7,1185.6 1492.9,1192.8 1503.0,1201.4 1513.1,1207.8 1523.2,1216.4 1533.4,1224.7" fill="none" stroke="#2f8f7a" stroke-width="2" stroke-linejoin="round"/>
<polyline points="13.9,1248.0 24.0,1269.1 34.1,1249.5 44.3,1245.3 54.4,1268.3 64.5,1269.8 74.7,1215.7 84.8,1223.2 94.9,1211.2 105.0,1192.1 115.2,1192.8 125.3,1189.6 135.4,1194.3 145.6,1221.7 155.7,1240.5 165.8,1248.3 176.0,1254.5 186.1,1270.3 196.2,1231.0 206.3,1191.6 216.5,1197.6 226.6,1203.2 236.7,1205.1 246.9,1205.9 257.0,1179.9 267.1,1203.2 277.2,1208.1 287.4,1173.5 297.5,1171.0 307.6,1153.2 317.8,1137.4 327.9,1118.6 338.0,1117.9 348.2,1110.4 358.3,1105.1 368.4,1100.3 378.6,1113.4 388.7,1131.0 398.8,1128.0 408.9,1134.1 419.1,1140.0 429.2,1182.1 439.3,1148.3 449.5,1157.7 459.6,1181.8 469.7,1160.8 479.9,1143.2 490.0,1149.8 500.1,1166.0 510.2,1182.6 520.4,1194.3 530.5,1185.3 540.6,1179.3 550.8,1134.9 560.9,1155.5 571.0,1136.7 581.2,1128.4 591.3,1168.3 601.4,1208.9 611.5,1190.4 621.7,1194.2 631.8,1240.9 641.9,1224.7 652.1,1228.5 662.2,1214.9 672.3,1204.4 682.5,1194.6 692.6,1201.4 702.7,1203.3 712.8,1211.5 723.0,1185.6 733.1,1190.1 743.2,1182.3 753.4,1233.0 763.5,1226.2 773.6,1244.3 783.8,1244.7 793.9,1225.5 804.0,1194.9 814.1,1187.4 824.3,1193.1 834.4,1145.7 844.5,1138.2 854.7,1140.7 864.8,1151.0 874.9,1156.2 885.1,1150.7 895.2,1178.8 905.3,1214.2 915.4,1196.1 925.6,1152.9 935.7,1172.8 945.8,1163.3 956.0,1159.3 966.1,1145.7 976.2,1114.6 986.4,1113.8 996.5,1114.1 1006.6,1112.2 1016.7,1116.1 1026.9,1108.9 1037.0,1149.5 1047.1,1157.0 1057.3,1097.6 1067.4,1107.3 1077.5,1117.4 1087.7,1110.7 1097.8,1108.9 1107.9,1103.6 1118.0,1148.7 1128.2,1123.1 1138.3,1168.3 1148.4,1135.6 1158.6,1135.6 1168.7,1143.5 1178.8,1169.0 1189.0,1176.1 1199.1,1149.0 1209.2,1177.3 1219.3,1136.7 1229.5,1094.6 1239.6,1100.1 1249.7,1118.9 1259.9,1113.7 1270.0,1110.7 1280.1,1125.7 1290.2,1118.6 1300.4,1108.1 1310.5,1127.2 1320.6,1118.6 1330.8,1151.7 1340.9,1157.0 1351.0,1152.8 1361.2,1129.5 1371.3,1135.6 1381.4,1132.2 1391.6,1114.9 1401.7,1111.1 1411.8,1168.3 1421.9,1223.2 1432.1,1228.8 1442.2,1222.1 1452.3,1224.7 1462.5,1243.5 1472.6,1253.7 1482.7,1257.8 1492.9,1250.3 1503.0,1248.3 1513.1,1246.8 1523.2,1236.7 1533.4,1231.0" fill="none" stroke="#9046ba" stroke-width="1.9" stroke-linejoin="round"/>
</g>
<rect x="30" y="1048" width="521" height="42" fill="rgba(255,255,255,0.6)"/>
<text x="41.8" y="1077" font-size="26" fill="#42454f" text-anchor="start" textLength="36.2" lengthAdjust="spacingAndGlyphs">RSI</text>
<circle cx="114" cy="1067" r="18" fill="rgba(140,110,245,0.22)"/>
<path d="M104.450 1063.140 A10.300 10.300 0 0 1 123.600 1063.400 M123.550 1070.860 A10.300 10.300 0 0 1 104.400 1070.600" fill="none" stroke="#5521ee" stroke-width="2.600"/>
<path d="M119.200 1064.600 L127.900 1062.100 L124.600 1068.200 Z M108.800 1069.400 L100.100 1071.900 L103.400 1065.800 Z" fill="#5521ee" stroke="#5521ee" stroke-width="0.800" stroke-linejoin="round"/>
<text x="149.7" y="1076.3" font-size="27.5" fill="#8e44b8" text-anchor="start" textLength="69" lengthAdjust="spacingAndGlyphs">36.77</text>
<text x="234.4" y="1076.3" font-size="27.5" fill="#2f8f7a" text-anchor="start" textLength="69.2" lengthAdjust="spacingAndGlyphs">38.07</text>
<text x="326" y="1076" font-size="22" fill="#131722" text-anchor="middle">∅</text>
<text x="357" y="1076" font-size="22" fill="#131722" text-anchor="middle">∅</text>
<text x="472" y="1076" font-size="22" fill="#131722" text-anchor="middle">∅</text>
<text x="503" y="1076" font-size="22" fill="#131722" text-anchor="middle">∅</text>
<text x="533" y="1076" font-size="22" fill="#131722" text-anchor="middle">∅</text>
<g><path d="M42 1222 H111.500 L97.400 1259.600 H54 V1242 H42 Z" fill="#fff"/><path d="M46 1226 H70 V1256 H58 V1238 H46 Z" fill="#131722"/><circle cx="80" cy="1232" r="5.900" fill="#131722"/><path d="M92 1226 H106 L94 1256 H80 Z" fill="#131722"/></g>
<g shape-rendering="crispEdges">
<rect x="1832" y="12" width="2" height="1328" fill="#3c3f4b"/>
<rect x="22" y="1034" width="1962" height="2" fill="#e0e3eb"/>
<rect x="22" y="1284" width="1962" height="2" fill="#3c3f4b"/>
</g>
<text x="1851.5" y="96.6" font-size="23.5" fill="#474a55" text-anchor="start" textLength="109.5" lengthAdjust="spacingAndGlyphs">32.40000</text>
<text x="1851.5" y="156.6" font-size="23.5" fill="#474a55" text-anchor="start" textLength="109.5" lengthAdjust="spacingAndGlyphs">32.20000</text>
<text x="1851.5" y="216.6" font-size="23.5" fill="#474a55" text-anchor="start" textLength="109.5" lengthAdjust="spacingAndGlyphs">32.00000</text>
<text x="1851.5" y="277.6" font-size="23.5" fill="#474a55" text-anchor="start" textLength="109.5" lengthAdjust="spacingAndGlyphs">31.80000</text>
<text x="1851.5" y="337.6" font-size="23.5" fill="#474a55" text-anchor="start" textLength="109.5" lengthAdjust="spacingAndGlyphs">31.60000</text>
<text x="1851.5" y="397.6" font-size="23.5" fill="#474a55" text-anchor="start" textLength="109.5" lengthAdjust="spacingAndGlyphs">31.40000</text>
<text x="1851.5" y="457.6" font-size="23.5" fill="#474a55" text-anchor="start" textLength="109.5" lengthAdjust="spacingAndGlyphs">31.20000</text>
<text x="1851.5" y="518.6" font-size="23.5" fill="#474a55" text-anchor="start" textLength="109.5" lengthAdjust="spacingAndGlyphs">31.00000</text>
<text x="1851.5" y="578.6" font-size="23.5" fill="#474a55" text-anchor="start" textLength="109.5" lengthAdjust="spacingAndGlyphs">30.80000</text>
<text x="1851.5" y="638.6" font-size="23.5" fill="#474a55" text-anchor="start" textLength="109.5" lengthAdjust="spacingAndGlyphs">30.60000</text>
<text x="1851.5" y="698.6" font-size="23.5" fill="#474a55" text-anchor="start" textLength="109.5" lengthAdjust="spacingAndGlyphs">30.40000</text>
<text x="1851.5" y="758.6" font-size="23.5" fill="#474a55" text-anchor="start" textLength="109.5" lengthAdjust="spacingAndGlyphs">30.20000</text>
<text x="1851.5" y="819.6" font-size="23.5" fill="#474a55" text-anchor="start" textLength="109.5" lengthAdjust="spacingAndGlyphs">30.00000</text>
<text x="1851.5" y="879.6" font-size="23.5" fill="#474a55" text-anchor="start" textLength="109.5" lengthAdjust="spacingAndGlyphs">29.80000</text>
<text x="1851.5" y="939.6" font-size="23.5" fill="#474a55" text-anchor="start" textLength="109.5" lengthAdjust="spacingAndGlyphs">29.60000</text>
<text x="1851.5" y="999.6" font-size="23.5" fill="#474a55" text-anchor="start" textLength="109.5" lengthAdjust="spacingAndGlyphs">29.40000</text>
<path d="M1834 103 H1970 Q1974 103 1974 107 V133 Q1974 137 1970 137 H1834 Z" fill="#68ac5b"/>
<text x="1851.5" y="128.6" font-size="24" fill="#fff" text-anchor="start" textLength="109.5" lengthAdjust="spacingAndGlyphs">32.29517</text>
<path d="M1834 348 H1970 Q1974 348 1974 352 V378 Q1974 382 1970 382 H1834 Z" fill="#45937f"/>
<text x="1851.5" y="373.6" font-size="24" fill="#fff" text-anchor="start" textLength="109.5" lengthAdjust="spacingAndGlyphs">31.47963</text>
<path d="M1834 488 H1970 Q1974 488 1974 492 V518 Q1974 522 1970 522 H1834 Z" fill="#e0484e"/>
<text x="1851.5" y="513.6" font-size="24" fill="#fff" text-anchor="start" textLength="109.5" lengthAdjust="spacingAndGlyphs">31.01529</text>
<path d="M1834 695 H1970 Q1974 695 1974 699 V725 Q1974 729 1970 729 H1834 Z" fill="#e0484e"/>
<text x="1851.5" y="720.6" font-size="24" fill="#fff" text-anchor="start" textLength="109.5" lengthAdjust="spacingAndGlyphs">30.32624</text>
<path d="M1834 765 H1970 Q1974 765 1974 769 V795 Q1974 799 1970 799 H1834 Z" fill="#e0484e"/>
<text x="1851.5" y="790.6" font-size="24" fill="#fff" text-anchor="start" textLength="109.5" lengthAdjust="spacingAndGlyphs">30.09366</text>
<path d="M1834 895 H1970 Q1974 895 1974 899 V925 Q1974 929 1970 929 H1834 Z" fill="#e0484e"/>
<text x="1851.5" y="920.6" font-size="24" fill="#fff" text-anchor="start" textLength="109.5" lengthAdjust="spacingAndGlyphs">29.66377</text>
<path d="M1834 589 H1970 Q1974 589 1974 593 V647 Q1974 651 1970 651 H1834 Z" fill="#52a398"/>
<text x="1851.5" y="614.6" font-size="24" fill="#fff" text-anchor="start" textLength="109.5" lengthAdjust="spacingAndGlyphs">30.67950</text>
<text x="1851.5" y="641.5" font-size="24" fill="rgba(255,255,255,0.8)" text-anchor="start" textLength="65" lengthAdjust="spacingAndGlyphs">55:05</text>
<rect x="1841" y="21" width="134" height="50" rx="8" fill="#fff" stroke="#e0e3eb" stroke-width="2"/>
<text x="1849.6" y="56" font-size="27.5" fill="#131722" text-anchor="start" textLength="54.4" lengthAdjust="spacingAndGlyphs">USD</text>
<path d="M1956.600 44 L1961.300 48.600 L1966 44" fill="none" stroke="#131722" stroke-width="2.300" stroke-linecap="round" stroke-linejoin="round"/>
<text x="1851" y="1133" font-size="24" fill="#474a55" text-anchor="start" textLength="66" lengthAdjust="spacingAndGlyphs">60.00</text>
<text x="1851" y="1225" font-size="24" fill="#474a55" text-anchor="start" textLength="66" lengthAdjust="spacingAndGlyphs">40.00</text>
<text x="284.2" y="1322" font-size="24" fill="#474a55" text-anchor="start" textLength="27.6" lengthAdjust="spacingAndGlyphs">18</text>
<text x="587.2" y="1322" font-size="24" fill="#474a55" text-anchor="start" textLength="27.6" lengthAdjust="spacingAndGlyphs">25</text>
<text x="1499.2" y="1322" font-size="24" fill="#474a55" text-anchor="start" textLength="27.6" lengthAdjust="spacingAndGlyphs">16</text>
<text x="1209" y="1322" font-size="24" fill="#474a55" text-anchor="middle">9</text>
<text x="895" y="1322" font-size="24" font-weight="bold" fill="#474a55" text-anchor="middle">Dec</text>
<text x="1803" y="1322" font-size="24" fill="#474a55" text-anchor="start" textLength="27.6" lengthAdjust="spacingAndGlyphs">23</text>
<path d="M1894.600 1312.800 L1901.200 1300.800 H1916.600 L1923.400 1312.800 L1916.600 1324.800 H1901.200 Z" fill="none" stroke="#131722" stroke-width="2.100" stroke-linejoin="miter"/><circle cx="1909" cy="1312.800" r="4" fill="none" stroke="#131722" stroke-width="2"/>
</svg></body></html>
